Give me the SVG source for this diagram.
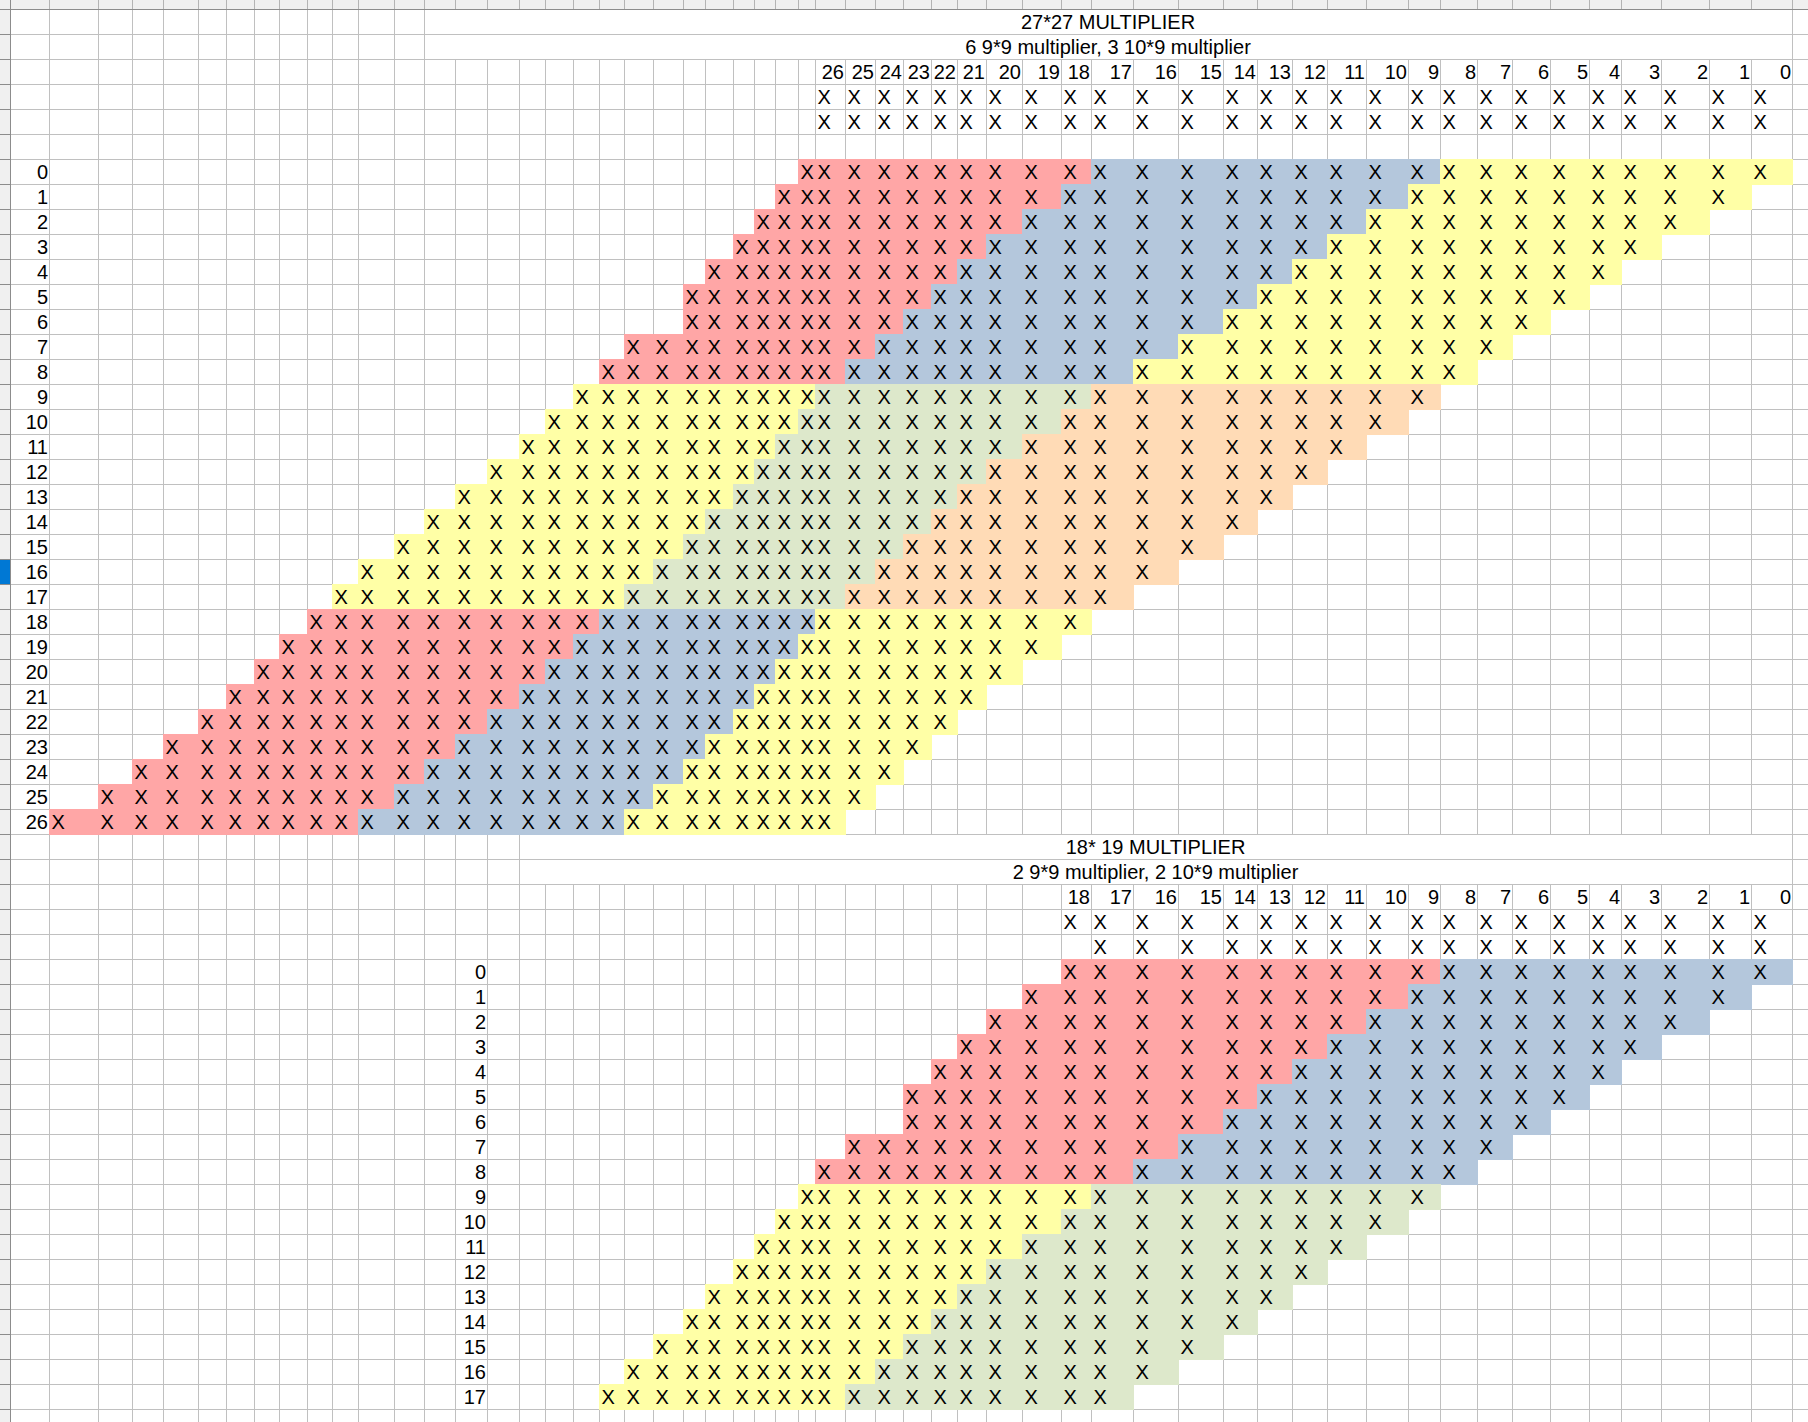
<svg xmlns="http://www.w3.org/2000/svg" xmlns:xlink="http://www.w3.org/1999/xlink" width="1808" height="1422" viewBox="0 0 1808 1422">
<style>
text{font-family:"Liberation Sans",Arial,sans-serif;font-size:20px;fill:#000}
.r{text-anchor:end}
.m{text-anchor:middle}
.p{fill:#ffa6a6}.b{fill:#b4c7dc}.y{fill:#ffffa6}.g{fill:#dde8cb}.o{fill:#ffdbb6}
.grid{stroke:#c0c0c0;stroke-width:1;fill:none}
.dark{stroke:#8c8c8c;stroke-width:1;fill:none}
</style>
<defs>
<clipPath id="ls"><rect x="0" y="0" width="10" height="1422"/></clipPath>
<clipPath id="ts"><rect x="0" y="0" width="1808" height="9"/></clipPath>
</defs>
<rect width="1808" height="1422" fill="#fff"/>
<g id="chrome">
<rect x="0" y="0" width="1808" height="9" fill="#f0f0f0"/>
<rect x="0" y="0" width="10" height="1422" fill="#f0f0f0"/>
<rect x="0" y="560" width="10" height="24" fill="#0078d4"/>
</g>
<g id="grid" class="grid">
<path id="hl" d="M0 9.5H1808M0 34.5H1808M0 59.5H1808M0 84.5H1808M0 109.5H1808M0 134.5H1808M0 159.5H1808M0 184.5H1808M0 209.5H1808M0 234.5H1808M0 259.5H1808M0 284.5H1808M0 309.5H1808M0 334.5H1808M0 359.5H1808M0 384.5H1808M0 409.5H1808M0 434.5H1808M0 459.5H1808M0 484.5H1808M0 509.5H1808M0 534.5H1808M0 559.5H1808M0 584.5H1808M0 609.5H1808M0 634.5H1808M0 659.5H1808M0 684.5H1808M0 709.5H1808M0 734.5H1808M0 759.5H1808M0 784.5H1808M0 809.5H1808M0 834.5H1808M0 859.5H1808M0 884.5H1808M0 909.5H1808M0 934.5H1808M0 959.5H1808M0 984.5H1808M0 1009.5H1808M0 1034.5H1808M0 1059.5H1808M0 1084.5H1808M0 1109.5H1808M0 1134.5H1808M0 1159.5H1808M0 1184.5H1808M0 1209.5H1808M0 1234.5H1808M0 1259.5H1808M0 1284.5H1808M0 1309.5H1808M0 1334.5H1808M0 1359.5H1808M0 1384.5H1808M0 1409.5H1808"/>
<path d="M49.5 9V1422M98.5 9V1422M132.5 9V1422M163.5 9V1422M198.5 9V1422M226.5 9V1422M254.5 9V1422M279.5 9V1422M307.5 9V1422M332.5 9V1422M358.5 9V1422M394.5 9V1422M424.5 9V1422M1792.5 9V1422M455.5 59V1422M487.5 59V1422M519.5 59V1422"/>
<path id="vl" d="M545.5 59V834M573.5 59V834M599.5 59V834M624.5 59V834M653.5 59V834M683.5 59V834M705.5 59V834M733.5 59V834M754.5 59V834M775.5 59V834M798.5 59V834M815.5 59V834M845.5 59V834M875.5 59V834M903.5 59V834M931.5 59V834M957.5 59V834M986.5 59V834M1022.5 59V834M1061.5 59V834M1091.5 59V834M1133.5 59V834M1178.5 59V834M1223.5 59V834M1257.5 59V834M1292.5 59V834M1327.5 59V834M1366.5 59V834M1408.5 59V834M1440.5 59V834M1477.5 59V834M1512.5 59V834M1550.5 59V834M1589.5 59V834M1621.5 59V834M1661.5 59V834M1709.5 59V834M1751.5 59V834"/>
<use xlink:href="#vl" href="#vl" transform="translate(0 825)"/>
<path d="M545.5 1659V1422" stroke="none"/>
<path d="M49.5 0V9M98.5 0V9M132.5 0V9M163.5 0V9M198.5 0V9M226.5 0V9M254.5 0V9M279.5 0V9M307.5 0V9M332.5 0V9M358.5 0V9M394.5 0V9M424.5 0V9M455.5 0V9M487.5 0V9M519.5 0V9M545.5 0V9M573.5 0V9M599.5 0V9M624.5 0V9M653.5 0V9M683.5 0V9M705.5 0V9M733.5 0V9M754.5 0V9M775.5 0V9M798.5 0V9M815.5 0V9M845.5 0V9M875.5 0V9M903.5 0V9M931.5 0V9M957.5 0V9M986.5 0V9M1022.5 0V9M1061.5 0V9M1091.5 0V9M1133.5 0V9M1178.5 0V9M1223.5 0V9M1257.5 0V9M1292.5 0V9M1327.5 0V9M1366.5 0V9M1408.5 0V9M1440.5 0V9M1477.5 0V9M1512.5 0V9M1550.5 0V9M1589.5 0V9M1621.5 0V9M1661.5 0V9M1709.5 0V9M1751.5 0V9M1792.5 0V9" stroke="#b4b4b4"/>
<use xlink:href="#hl" href="#hl" clip-path="url(#ls)" stroke="#8c8c8c"/>
<path class="dark" d="M0 9.5H1808M10.5 0V1422"/>
</g>
<g id="fills">
<rect class="p" x="798" y="159" width="294" height="26"/><rect class="b" x="1091" y="159" width="350" height="26"/><rect class="y" x="1440" y="159" width="353" height="26"/>
<rect class="p" x="775" y="184" width="287" height="26"/><rect class="b" x="1061" y="184" width="348" height="26"/><rect class="y" x="1408" y="184" width="344" height="26"/>
<rect class="p" x="754" y="209" width="269" height="26"/><rect class="b" x="1022" y="209" width="345" height="26"/><rect class="y" x="1366" y="209" width="344" height="26"/>
<rect class="p" x="733" y="234" width="254" height="26"/><rect class="b" x="986" y="234" width="342" height="26"/><rect class="y" x="1327" y="234" width="335" height="26"/>
<rect class="p" x="705" y="259" width="253" height="26"/><rect class="b" x="957" y="259" width="336" height="26"/><rect class="y" x="1292" y="259" width="330" height="26"/>
<rect class="p" x="683" y="284" width="249" height="26"/><rect class="b" x="931" y="284" width="327" height="26"/><rect class="y" x="1257" y="284" width="333" height="26"/>
<rect class="p" x="683" y="309" width="221" height="26"/><rect class="b" x="903" y="309" width="321" height="26"/><rect class="y" x="1223" y="309" width="328" height="26"/>
<rect class="p" x="624" y="334" width="252" height="26"/><rect class="b" x="875" y="334" width="304" height="26"/><rect class="y" x="1178" y="334" width="335" height="26"/>
<rect class="p" x="599" y="359" width="247" height="26"/><rect class="b" x="845" y="359" width="289" height="26"/><rect class="y" x="1133" y="359" width="345" height="26"/>
<rect class="y" x="573" y="384" width="243" height="26"/><rect class="g" x="815" y="384" width="277" height="26"/><rect class="o" x="1091" y="384" width="350" height="26"/>
<rect class="y" x="545" y="409" width="254" height="26"/><rect class="g" x="798" y="409" width="264" height="26"/><rect class="o" x="1061" y="409" width="348" height="26"/>
<rect class="y" x="519" y="434" width="257" height="26"/><rect class="g" x="775" y="434" width="248" height="26"/><rect class="o" x="1022" y="434" width="345" height="26"/>
<rect class="y" x="487" y="459" width="268" height="26"/><rect class="g" x="754" y="459" width="233" height="26"/><rect class="o" x="986" y="459" width="342" height="26"/>
<rect class="y" x="455" y="484" width="279" height="26"/><rect class="g" x="733" y="484" width="225" height="26"/><rect class="o" x="957" y="484" width="336" height="26"/>
<rect class="y" x="424" y="509" width="282" height="26"/><rect class="g" x="705" y="509" width="227" height="26"/><rect class="o" x="931" y="509" width="327" height="26"/>
<rect class="y" x="394" y="534" width="290" height="26"/><rect class="g" x="683" y="534" width="221" height="26"/><rect class="o" x="903" y="534" width="321" height="26"/>
<rect class="y" x="358" y="559" width="296" height="26"/><rect class="g" x="653" y="559" width="223" height="26"/><rect class="o" x="875" y="559" width="304" height="26"/>
<rect class="y" x="332" y="584" width="293" height="26"/><rect class="g" x="624" y="584" width="222" height="26"/><rect class="o" x="845" y="584" width="289" height="26"/>
<rect class="p" x="307" y="609" width="293" height="26"/><rect class="b" x="599" y="609" width="217" height="26"/><rect class="y" x="815" y="609" width="277" height="26"/>
<rect class="p" x="279" y="634" width="295" height="26"/><rect class="b" x="573" y="634" width="226" height="26"/><rect class="y" x="798" y="634" width="264" height="26"/>
<rect class="p" x="254" y="659" width="292" height="26"/><rect class="b" x="545" y="659" width="231" height="26"/><rect class="y" x="775" y="659" width="248" height="26"/>
<rect class="p" x="226" y="684" width="294" height="26"/><rect class="b" x="519" y="684" width="236" height="26"/><rect class="y" x="754" y="684" width="233" height="26"/>
<rect class="p" x="198" y="709" width="290" height="26"/><rect class="b" x="487" y="709" width="247" height="26"/><rect class="y" x="733" y="709" width="225" height="26"/>
<rect class="p" x="163" y="734" width="293" height="26"/><rect class="b" x="455" y="734" width="251" height="26"/><rect class="y" x="705" y="734" width="227" height="26"/>
<rect class="p" x="132" y="759" width="293" height="26"/><rect class="b" x="424" y="759" width="260" height="26"/><rect class="y" x="683" y="759" width="221" height="26"/>
<rect class="p" x="98" y="784" width="297" height="26"/><rect class="b" x="394" y="784" width="260" height="26"/><rect class="y" x="653" y="784" width="223" height="26"/>
<rect class="p" x="49" y="809" width="310" height="26"/><rect class="b" x="358" y="809" width="267" height="26"/><rect class="y" x="624" y="809" width="222" height="26"/>
<rect class="p" x="1061" y="959" width="380" height="26"/><rect class="b" x="1440" y="959" width="353" height="26"/>
<rect class="p" x="1022" y="984" width="387" height="26"/><rect class="b" x="1408" y="984" width="344" height="26"/>
<rect class="p" x="986" y="1009" width="381" height="26"/><rect class="b" x="1366" y="1009" width="344" height="26"/>
<rect class="p" x="957" y="1034" width="371" height="26"/><rect class="b" x="1327" y="1034" width="335" height="26"/>
<rect class="p" x="931" y="1059" width="362" height="26"/><rect class="b" x="1292" y="1059" width="330" height="26"/>
<rect class="p" x="903" y="1084" width="355" height="26"/><rect class="b" x="1257" y="1084" width="333" height="26"/>
<rect class="p" x="903" y="1109" width="321" height="26"/><rect class="b" x="1223" y="1109" width="328" height="26"/>
<rect class="p" x="845" y="1134" width="334" height="26"/><rect class="b" x="1178" y="1134" width="335" height="26"/>
<rect class="p" x="815" y="1159" width="319" height="26"/><rect class="b" x="1133" y="1159" width="345" height="26"/>
<rect class="y" x="798" y="1184" width="294" height="26"/><rect class="g" x="1091" y="1184" width="350" height="26"/>
<rect class="y" x="775" y="1209" width="287" height="26"/><rect class="g" x="1061" y="1209" width="348" height="26"/>
<rect class="y" x="754" y="1234" width="269" height="26"/><rect class="g" x="1022" y="1234" width="345" height="26"/>
<rect class="y" x="733" y="1259" width="254" height="26"/><rect class="g" x="986" y="1259" width="342" height="26"/>
<rect class="y" x="705" y="1284" width="253" height="26"/><rect class="g" x="957" y="1284" width="336" height="26"/>
<rect class="y" x="683" y="1309" width="249" height="26"/><rect class="g" x="931" y="1309" width="327" height="26"/>
<rect class="y" x="653" y="1334" width="251" height="26"/><rect class="g" x="903" y="1334" width="321" height="26"/>
<rect class="y" x="624" y="1359" width="252" height="26"/><rect class="g" x="875" y="1359" width="304" height="26"/>
<rect class="y" x="599" y="1384" width="247" height="26"/><rect class="g" x="845" y="1384" width="289" height="26"/>
</g>
<g id="table27-title">
<text class="m" x="1108" y="29.3">27*27 MULTIPLIER</text>
<text class="m" x="1108" y="54.3">6 9*9 multiplier, 3 10*9 multiplier</text>
</g>
<g id="table27-header">
<g class="r" transform="translate(0 79.3)"><text x="844">26</text><text x="874">25</text><text x="902">24</text><text x="930">23</text><text x="956">22</text><text x="985">21</text><text x="1021">20</text><text x="1060">19</text><text x="1090">18</text><text x="1132">17</text><text x="1177">16</text><text x="1222">15</text><text x="1256">14</text><text x="1291">13</text><text x="1326">12</text><text x="1365">11</text><text x="1407">10</text><text x="1439">9</text><text x="1476">8</text><text x="1511">7</text><text x="1549">6</text><text x="1588">5</text><text x="1620">4</text><text x="1660">3</text><text x="1708">2</text><text x="1750">1</text><text x="1791">0</text></g>
<g transform="translate(.5 104.3)"><text x="817">X</text><text x="847">X</text><text x="877">X</text><text x="905">X</text><text x="933">X</text><text x="959">X</text><text x="988">X</text><text x="1024">X</text><text x="1063">X</text><text x="1093">X</text><text x="1135">X</text><text x="1180">X</text><text x="1225">X</text><text x="1259">X</text><text x="1294">X</text><text x="1329">X</text><text x="1368">X</text><text x="1410">X</text><text x="1442">X</text><text x="1479">X</text><text x="1514">X</text><text x="1552">X</text><text x="1591">X</text><text x="1623">X</text><text x="1663">X</text><text x="1711">X</text><text x="1753">X</text></g>
<g transform="translate(.5 129.3)"><text x="817">X</text><text x="847">X</text><text x="877">X</text><text x="905">X</text><text x="933">X</text><text x="959">X</text><text x="988">X</text><text x="1024">X</text><text x="1063">X</text><text x="1093">X</text><text x="1135">X</text><text x="1180">X</text><text x="1225">X</text><text x="1259">X</text><text x="1294">X</text><text x="1329">X</text><text x="1368">X</text><text x="1410">X</text><text x="1442">X</text><text x="1479">X</text><text x="1514">X</text><text x="1552">X</text><text x="1591">X</text><text x="1623">X</text><text x="1663">X</text><text x="1711">X</text><text x="1753">X</text></g>
</g>
<g id="table27-labels" class="r">
<text x="48" y="179.3">0</text><text x="48" y="204.3">1</text><text x="48" y="229.3">2</text><text x="48" y="254.3">3</text><text x="48" y="279.3">4</text><text x="48" y="304.3">5</text><text x="48" y="329.3">6</text><text x="48" y="354.3">7</text><text x="48" y="379.3">8</text><text x="48" y="404.3">9</text><text x="48" y="429.3">10</text><text x="48" y="454.3">11</text><text x="48" y="479.3">12</text><text x="48" y="504.3">13</text><text x="48" y="529.3">14</text><text x="48" y="554.3">15</text><text x="48" y="579.3">16</text><text x="48" y="604.3">17</text><text x="48" y="629.3">18</text><text x="48" y="654.3">19</text><text x="48" y="679.3">20</text><text x="48" y="704.3">21</text><text x="48" y="729.3">22</text><text x="48" y="754.3">23</text><text x="48" y="779.3">24</text><text x="48" y="804.3">25</text><text x="48" y="829.3">26</text>
</g>
<g id="table27-rows">
<g transform="translate(.5 179.3)"><text x="800">X</text><text x="817">X</text><text x="847">X</text><text x="877">X</text><text x="905">X</text><text x="933">X</text><text x="959">X</text><text x="988">X</text><text x="1024">X</text><text x="1063">X</text><text x="1093">X</text><text x="1135">X</text><text x="1180">X</text><text x="1225">X</text><text x="1259">X</text><text x="1294">X</text><text x="1329">X</text><text x="1368">X</text><text x="1410">X</text><text x="1442">X</text><text x="1479">X</text><text x="1514">X</text><text x="1552">X</text><text x="1591">X</text><text x="1623">X</text><text x="1663">X</text><text x="1711">X</text><text x="1753">X</text></g>
<g transform="translate(.5 204.3)"><text x="777">X</text><text x="800">X</text><text x="817">X</text><text x="847">X</text><text x="877">X</text><text x="905">X</text><text x="933">X</text><text x="959">X</text><text x="988">X</text><text x="1024">X</text><text x="1063">X</text><text x="1093">X</text><text x="1135">X</text><text x="1180">X</text><text x="1225">X</text><text x="1259">X</text><text x="1294">X</text><text x="1329">X</text><text x="1368">X</text><text x="1410">X</text><text x="1442">X</text><text x="1479">X</text><text x="1514">X</text><text x="1552">X</text><text x="1591">X</text><text x="1623">X</text><text x="1663">X</text><text x="1711">X</text></g>
<g transform="translate(.5 229.3)"><text x="756">X</text><text x="777">X</text><text x="800">X</text><text x="817">X</text><text x="847">X</text><text x="877">X</text><text x="905">X</text><text x="933">X</text><text x="959">X</text><text x="988">X</text><text x="1024">X</text><text x="1063">X</text><text x="1093">X</text><text x="1135">X</text><text x="1180">X</text><text x="1225">X</text><text x="1259">X</text><text x="1294">X</text><text x="1329">X</text><text x="1368">X</text><text x="1410">X</text><text x="1442">X</text><text x="1479">X</text><text x="1514">X</text><text x="1552">X</text><text x="1591">X</text><text x="1623">X</text><text x="1663">X</text></g>
<g transform="translate(.5 254.3)"><text x="735">X</text><text x="756">X</text><text x="777">X</text><text x="800">X</text><text x="817">X</text><text x="847">X</text><text x="877">X</text><text x="905">X</text><text x="933">X</text><text x="959">X</text><text x="988">X</text><text x="1024">X</text><text x="1063">X</text><text x="1093">X</text><text x="1135">X</text><text x="1180">X</text><text x="1225">X</text><text x="1259">X</text><text x="1294">X</text><text x="1329">X</text><text x="1368">X</text><text x="1410">X</text><text x="1442">X</text><text x="1479">X</text><text x="1514">X</text><text x="1552">X</text><text x="1591">X</text><text x="1623">X</text></g>
<g transform="translate(.5 279.3)"><text x="707">X</text><text x="735">X</text><text x="756">X</text><text x="777">X</text><text x="800">X</text><text x="817">X</text><text x="847">X</text><text x="877">X</text><text x="905">X</text><text x="933">X</text><text x="959">X</text><text x="988">X</text><text x="1024">X</text><text x="1063">X</text><text x="1093">X</text><text x="1135">X</text><text x="1180">X</text><text x="1225">X</text><text x="1259">X</text><text x="1294">X</text><text x="1329">X</text><text x="1368">X</text><text x="1410">X</text><text x="1442">X</text><text x="1479">X</text><text x="1514">X</text><text x="1552">X</text><text x="1591">X</text></g>
<g transform="translate(.5 304.3)"><text x="685">X</text><text x="707">X</text><text x="735">X</text><text x="756">X</text><text x="777">X</text><text x="800">X</text><text x="817">X</text><text x="847">X</text><text x="877">X</text><text x="905">X</text><text x="933">X</text><text x="959">X</text><text x="988">X</text><text x="1024">X</text><text x="1063">X</text><text x="1093">X</text><text x="1135">X</text><text x="1180">X</text><text x="1225">X</text><text x="1259">X</text><text x="1294">X</text><text x="1329">X</text><text x="1368">X</text><text x="1410">X</text><text x="1442">X</text><text x="1479">X</text><text x="1514">X</text><text x="1552">X</text></g>
<g transform="translate(.5 329.3)"><text x="685">X</text><text x="707">X</text><text x="735">X</text><text x="756">X</text><text x="777">X</text><text x="800">X</text><text x="817">X</text><text x="847">X</text><text x="877">X</text><text x="905">X</text><text x="933">X</text><text x="959">X</text><text x="988">X</text><text x="1024">X</text><text x="1063">X</text><text x="1093">X</text><text x="1135">X</text><text x="1180">X</text><text x="1225">X</text><text x="1259">X</text><text x="1294">X</text><text x="1329">X</text><text x="1368">X</text><text x="1410">X</text><text x="1442">X</text><text x="1479">X</text><text x="1514">X</text></g>
<g transform="translate(.5 354.3)"><text x="626">X</text><text x="655">X</text><text x="685">X</text><text x="707">X</text><text x="735">X</text><text x="756">X</text><text x="777">X</text><text x="800">X</text><text x="817">X</text><text x="847">X</text><text x="877">X</text><text x="905">X</text><text x="933">X</text><text x="959">X</text><text x="988">X</text><text x="1024">X</text><text x="1063">X</text><text x="1093">X</text><text x="1135">X</text><text x="1180">X</text><text x="1225">X</text><text x="1259">X</text><text x="1294">X</text><text x="1329">X</text><text x="1368">X</text><text x="1410">X</text><text x="1442">X</text><text x="1479">X</text></g>
<g transform="translate(.5 379.3)"><text x="601">X</text><text x="626">X</text><text x="655">X</text><text x="685">X</text><text x="707">X</text><text x="735">X</text><text x="756">X</text><text x="777">X</text><text x="800">X</text><text x="817">X</text><text x="847">X</text><text x="877">X</text><text x="905">X</text><text x="933">X</text><text x="959">X</text><text x="988">X</text><text x="1024">X</text><text x="1063">X</text><text x="1093">X</text><text x="1135">X</text><text x="1180">X</text><text x="1225">X</text><text x="1259">X</text><text x="1294">X</text><text x="1329">X</text><text x="1368">X</text><text x="1410">X</text><text x="1442">X</text></g>
<g transform="translate(.5 404.3)"><text x="575">X</text><text x="601">X</text><text x="626">X</text><text x="655">X</text><text x="685">X</text><text x="707">X</text><text x="735">X</text><text x="756">X</text><text x="777">X</text><text x="800">X</text><text x="817">X</text><text x="847">X</text><text x="877">X</text><text x="905">X</text><text x="933">X</text><text x="959">X</text><text x="988">X</text><text x="1024">X</text><text x="1063">X</text><text x="1093">X</text><text x="1135">X</text><text x="1180">X</text><text x="1225">X</text><text x="1259">X</text><text x="1294">X</text><text x="1329">X</text><text x="1368">X</text><text x="1410">X</text></g>
<g transform="translate(.5 429.3)"><text x="547">X</text><text x="575">X</text><text x="601">X</text><text x="626">X</text><text x="655">X</text><text x="685">X</text><text x="707">X</text><text x="735">X</text><text x="756">X</text><text x="777">X</text><text x="800">X</text><text x="817">X</text><text x="847">X</text><text x="877">X</text><text x="905">X</text><text x="933">X</text><text x="959">X</text><text x="988">X</text><text x="1024">X</text><text x="1063">X</text><text x="1093">X</text><text x="1135">X</text><text x="1180">X</text><text x="1225">X</text><text x="1259">X</text><text x="1294">X</text><text x="1329">X</text><text x="1368">X</text></g>
<g transform="translate(.5 454.3)"><text x="521">X</text><text x="547">X</text><text x="575">X</text><text x="601">X</text><text x="626">X</text><text x="655">X</text><text x="685">X</text><text x="707">X</text><text x="735">X</text><text x="756">X</text><text x="777">X</text><text x="800">X</text><text x="817">X</text><text x="847">X</text><text x="877">X</text><text x="905">X</text><text x="933">X</text><text x="959">X</text><text x="988">X</text><text x="1024">X</text><text x="1063">X</text><text x="1093">X</text><text x="1135">X</text><text x="1180">X</text><text x="1225">X</text><text x="1259">X</text><text x="1294">X</text><text x="1329">X</text></g>
<g transform="translate(.5 479.3)"><text x="489">X</text><text x="521">X</text><text x="547">X</text><text x="575">X</text><text x="601">X</text><text x="626">X</text><text x="655">X</text><text x="685">X</text><text x="707">X</text><text x="735">X</text><text x="756">X</text><text x="777">X</text><text x="800">X</text><text x="817">X</text><text x="847">X</text><text x="877">X</text><text x="905">X</text><text x="933">X</text><text x="959">X</text><text x="988">X</text><text x="1024">X</text><text x="1063">X</text><text x="1093">X</text><text x="1135">X</text><text x="1180">X</text><text x="1225">X</text><text x="1259">X</text><text x="1294">X</text></g>
<g transform="translate(.5 504.3)"><text x="457">X</text><text x="489">X</text><text x="521">X</text><text x="547">X</text><text x="575">X</text><text x="601">X</text><text x="626">X</text><text x="655">X</text><text x="685">X</text><text x="707">X</text><text x="735">X</text><text x="756">X</text><text x="777">X</text><text x="800">X</text><text x="817">X</text><text x="847">X</text><text x="877">X</text><text x="905">X</text><text x="933">X</text><text x="959">X</text><text x="988">X</text><text x="1024">X</text><text x="1063">X</text><text x="1093">X</text><text x="1135">X</text><text x="1180">X</text><text x="1225">X</text><text x="1259">X</text></g>
<g transform="translate(.5 529.3)"><text x="426">X</text><text x="457">X</text><text x="489">X</text><text x="521">X</text><text x="547">X</text><text x="575">X</text><text x="601">X</text><text x="626">X</text><text x="655">X</text><text x="685">X</text><text x="707">X</text><text x="735">X</text><text x="756">X</text><text x="777">X</text><text x="800">X</text><text x="817">X</text><text x="847">X</text><text x="877">X</text><text x="905">X</text><text x="933">X</text><text x="959">X</text><text x="988">X</text><text x="1024">X</text><text x="1063">X</text><text x="1093">X</text><text x="1135">X</text><text x="1180">X</text><text x="1225">X</text></g>
<g transform="translate(.5 554.3)"><text x="396">X</text><text x="426">X</text><text x="457">X</text><text x="489">X</text><text x="521">X</text><text x="547">X</text><text x="575">X</text><text x="601">X</text><text x="626">X</text><text x="655">X</text><text x="685">X</text><text x="707">X</text><text x="735">X</text><text x="756">X</text><text x="777">X</text><text x="800">X</text><text x="817">X</text><text x="847">X</text><text x="877">X</text><text x="905">X</text><text x="933">X</text><text x="959">X</text><text x="988">X</text><text x="1024">X</text><text x="1063">X</text><text x="1093">X</text><text x="1135">X</text><text x="1180">X</text></g>
<g transform="translate(.5 579.3)"><text x="360">X</text><text x="396">X</text><text x="426">X</text><text x="457">X</text><text x="489">X</text><text x="521">X</text><text x="547">X</text><text x="575">X</text><text x="601">X</text><text x="626">X</text><text x="655">X</text><text x="685">X</text><text x="707">X</text><text x="735">X</text><text x="756">X</text><text x="777">X</text><text x="800">X</text><text x="817">X</text><text x="847">X</text><text x="877">X</text><text x="905">X</text><text x="933">X</text><text x="959">X</text><text x="988">X</text><text x="1024">X</text><text x="1063">X</text><text x="1093">X</text><text x="1135">X</text></g>
<g transform="translate(.5 604.3)"><text x="334">X</text><text x="360">X</text><text x="396">X</text><text x="426">X</text><text x="457">X</text><text x="489">X</text><text x="521">X</text><text x="547">X</text><text x="575">X</text><text x="601">X</text><text x="626">X</text><text x="655">X</text><text x="685">X</text><text x="707">X</text><text x="735">X</text><text x="756">X</text><text x="777">X</text><text x="800">X</text><text x="817">X</text><text x="847">X</text><text x="877">X</text><text x="905">X</text><text x="933">X</text><text x="959">X</text><text x="988">X</text><text x="1024">X</text><text x="1063">X</text><text x="1093">X</text></g>
<g transform="translate(.5 629.3)"><text x="309">X</text><text x="334">X</text><text x="360">X</text><text x="396">X</text><text x="426">X</text><text x="457">X</text><text x="489">X</text><text x="521">X</text><text x="547">X</text><text x="575">X</text><text x="601">X</text><text x="626">X</text><text x="655">X</text><text x="685">X</text><text x="707">X</text><text x="735">X</text><text x="756">X</text><text x="777">X</text><text x="800">X</text><text x="817">X</text><text x="847">X</text><text x="877">X</text><text x="905">X</text><text x="933">X</text><text x="959">X</text><text x="988">X</text><text x="1024">X</text><text x="1063">X</text></g>
<g transform="translate(.5 654.3)"><text x="281">X</text><text x="309">X</text><text x="334">X</text><text x="360">X</text><text x="396">X</text><text x="426">X</text><text x="457">X</text><text x="489">X</text><text x="521">X</text><text x="547">X</text><text x="575">X</text><text x="601">X</text><text x="626">X</text><text x="655">X</text><text x="685">X</text><text x="707">X</text><text x="735">X</text><text x="756">X</text><text x="777">X</text><text x="800">X</text><text x="817">X</text><text x="847">X</text><text x="877">X</text><text x="905">X</text><text x="933">X</text><text x="959">X</text><text x="988">X</text><text x="1024">X</text></g>
<g transform="translate(.5 679.3)"><text x="256">X</text><text x="281">X</text><text x="309">X</text><text x="334">X</text><text x="360">X</text><text x="396">X</text><text x="426">X</text><text x="457">X</text><text x="489">X</text><text x="521">X</text><text x="547">X</text><text x="575">X</text><text x="601">X</text><text x="626">X</text><text x="655">X</text><text x="685">X</text><text x="707">X</text><text x="735">X</text><text x="756">X</text><text x="777">X</text><text x="800">X</text><text x="817">X</text><text x="847">X</text><text x="877">X</text><text x="905">X</text><text x="933">X</text><text x="959">X</text><text x="988">X</text></g>
<g transform="translate(.5 704.3)"><text x="228">X</text><text x="256">X</text><text x="281">X</text><text x="309">X</text><text x="334">X</text><text x="360">X</text><text x="396">X</text><text x="426">X</text><text x="457">X</text><text x="489">X</text><text x="521">X</text><text x="547">X</text><text x="575">X</text><text x="601">X</text><text x="626">X</text><text x="655">X</text><text x="685">X</text><text x="707">X</text><text x="735">X</text><text x="756">X</text><text x="777">X</text><text x="800">X</text><text x="817">X</text><text x="847">X</text><text x="877">X</text><text x="905">X</text><text x="933">X</text><text x="959">X</text></g>
<g transform="translate(.5 729.3)"><text x="200">X</text><text x="228">X</text><text x="256">X</text><text x="281">X</text><text x="309">X</text><text x="334">X</text><text x="360">X</text><text x="396">X</text><text x="426">X</text><text x="457">X</text><text x="489">X</text><text x="521">X</text><text x="547">X</text><text x="575">X</text><text x="601">X</text><text x="626">X</text><text x="655">X</text><text x="685">X</text><text x="707">X</text><text x="735">X</text><text x="756">X</text><text x="777">X</text><text x="800">X</text><text x="817">X</text><text x="847">X</text><text x="877">X</text><text x="905">X</text><text x="933">X</text></g>
<g transform="translate(.5 754.3)"><text x="165">X</text><text x="200">X</text><text x="228">X</text><text x="256">X</text><text x="281">X</text><text x="309">X</text><text x="334">X</text><text x="360">X</text><text x="396">X</text><text x="426">X</text><text x="457">X</text><text x="489">X</text><text x="521">X</text><text x="547">X</text><text x="575">X</text><text x="601">X</text><text x="626">X</text><text x="655">X</text><text x="685">X</text><text x="707">X</text><text x="735">X</text><text x="756">X</text><text x="777">X</text><text x="800">X</text><text x="817">X</text><text x="847">X</text><text x="877">X</text><text x="905">X</text></g>
<g transform="translate(.5 779.3)"><text x="134">X</text><text x="165">X</text><text x="200">X</text><text x="228">X</text><text x="256">X</text><text x="281">X</text><text x="309">X</text><text x="334">X</text><text x="360">X</text><text x="396">X</text><text x="426">X</text><text x="457">X</text><text x="489">X</text><text x="521">X</text><text x="547">X</text><text x="575">X</text><text x="601">X</text><text x="626">X</text><text x="655">X</text><text x="685">X</text><text x="707">X</text><text x="735">X</text><text x="756">X</text><text x="777">X</text><text x="800">X</text><text x="817">X</text><text x="847">X</text><text x="877">X</text></g>
<g transform="translate(.5 804.3)"><text x="100">X</text><text x="134">X</text><text x="165">X</text><text x="200">X</text><text x="228">X</text><text x="256">X</text><text x="281">X</text><text x="309">X</text><text x="334">X</text><text x="360">X</text><text x="396">X</text><text x="426">X</text><text x="457">X</text><text x="489">X</text><text x="521">X</text><text x="547">X</text><text x="575">X</text><text x="601">X</text><text x="626">X</text><text x="655">X</text><text x="685">X</text><text x="707">X</text><text x="735">X</text><text x="756">X</text><text x="777">X</text><text x="800">X</text><text x="817">X</text><text x="847">X</text></g>
<g transform="translate(.5 829.3)"><text x="51">X</text><text x="100">X</text><text x="134">X</text><text x="165">X</text><text x="200">X</text><text x="228">X</text><text x="256">X</text><text x="281">X</text><text x="309">X</text><text x="334">X</text><text x="360">X</text><text x="396">X</text><text x="426">X</text><text x="457">X</text><text x="489">X</text><text x="521">X</text><text x="547">X</text><text x="575">X</text><text x="601">X</text><text x="626">X</text><text x="655">X</text><text x="685">X</text><text x="707">X</text><text x="735">X</text><text x="756">X</text><text x="777">X</text><text x="800">X</text><text x="817">X</text></g>
</g>
<g id="table18-title">
<text class="m" x="1155.5" y="854.3">18* 19 MULTIPLIER</text>
<text class="m" x="1155.5" y="879.3">2 9*9 multiplier, 2 10*9 multiplier</text>
</g>
<g id="table18-header">
<g class="r" transform="translate(0 904.3)"><text x="1090">18</text><text x="1132">17</text><text x="1177">16</text><text x="1222">15</text><text x="1256">14</text><text x="1291">13</text><text x="1326">12</text><text x="1365">11</text><text x="1407">10</text><text x="1439">9</text><text x="1476">8</text><text x="1511">7</text><text x="1549">6</text><text x="1588">5</text><text x="1620">4</text><text x="1660">3</text><text x="1708">2</text><text x="1750">1</text><text x="1791">0</text></g>
<g transform="translate(.5 929.3)"><text x="1063">X</text><text x="1093">X</text><text x="1135">X</text><text x="1180">X</text><text x="1225">X</text><text x="1259">X</text><text x="1294">X</text><text x="1329">X</text><text x="1368">X</text><text x="1410">X</text><text x="1442">X</text><text x="1479">X</text><text x="1514">X</text><text x="1552">X</text><text x="1591">X</text><text x="1623">X</text><text x="1663">X</text><text x="1711">X</text><text x="1753">X</text></g>
<g transform="translate(.5 954.3)"><text x="1093">X</text><text x="1135">X</text><text x="1180">X</text><text x="1225">X</text><text x="1259">X</text><text x="1294">X</text><text x="1329">X</text><text x="1368">X</text><text x="1410">X</text><text x="1442">X</text><text x="1479">X</text><text x="1514">X</text><text x="1552">X</text><text x="1591">X</text><text x="1623">X</text><text x="1663">X</text><text x="1711">X</text><text x="1753">X</text></g>
</g>
<g id="table18-labels" class="r">
<text x="486" y="979.3">0</text><text x="486" y="1004.3">1</text><text x="486" y="1029.3">2</text><text x="486" y="1054.3">3</text><text x="486" y="1079.3">4</text><text x="486" y="1104.3">5</text><text x="486" y="1129.3">6</text><text x="486" y="1154.3">7</text><text x="486" y="1179.3">8</text><text x="486" y="1204.3">9</text><text x="486" y="1229.3">10</text><text x="486" y="1254.3">11</text><text x="486" y="1279.3">12</text><text x="486" y="1304.3">13</text><text x="486" y="1329.3">14</text><text x="486" y="1354.3">15</text><text x="486" y="1379.3">16</text><text x="486" y="1404.3">17</text>
</g>
<g id="table18-rows">
<g transform="translate(.5 979.3)"><text x="1063">X</text><text x="1093">X</text><text x="1135">X</text><text x="1180">X</text><text x="1225">X</text><text x="1259">X</text><text x="1294">X</text><text x="1329">X</text><text x="1368">X</text><text x="1410">X</text><text x="1442">X</text><text x="1479">X</text><text x="1514">X</text><text x="1552">X</text><text x="1591">X</text><text x="1623">X</text><text x="1663">X</text><text x="1711">X</text><text x="1753">X</text></g>
<g transform="translate(.5 1004.3)"><text x="1024">X</text><text x="1063">X</text><text x="1093">X</text><text x="1135">X</text><text x="1180">X</text><text x="1225">X</text><text x="1259">X</text><text x="1294">X</text><text x="1329">X</text><text x="1368">X</text><text x="1410">X</text><text x="1442">X</text><text x="1479">X</text><text x="1514">X</text><text x="1552">X</text><text x="1591">X</text><text x="1623">X</text><text x="1663">X</text><text x="1711">X</text></g>
<g transform="translate(.5 1029.3)"><text x="988">X</text><text x="1024">X</text><text x="1063">X</text><text x="1093">X</text><text x="1135">X</text><text x="1180">X</text><text x="1225">X</text><text x="1259">X</text><text x="1294">X</text><text x="1329">X</text><text x="1368">X</text><text x="1410">X</text><text x="1442">X</text><text x="1479">X</text><text x="1514">X</text><text x="1552">X</text><text x="1591">X</text><text x="1623">X</text><text x="1663">X</text></g>
<g transform="translate(.5 1054.3)"><text x="959">X</text><text x="988">X</text><text x="1024">X</text><text x="1063">X</text><text x="1093">X</text><text x="1135">X</text><text x="1180">X</text><text x="1225">X</text><text x="1259">X</text><text x="1294">X</text><text x="1329">X</text><text x="1368">X</text><text x="1410">X</text><text x="1442">X</text><text x="1479">X</text><text x="1514">X</text><text x="1552">X</text><text x="1591">X</text><text x="1623">X</text></g>
<g transform="translate(.5 1079.3)"><text x="933">X</text><text x="959">X</text><text x="988">X</text><text x="1024">X</text><text x="1063">X</text><text x="1093">X</text><text x="1135">X</text><text x="1180">X</text><text x="1225">X</text><text x="1259">X</text><text x="1294">X</text><text x="1329">X</text><text x="1368">X</text><text x="1410">X</text><text x="1442">X</text><text x="1479">X</text><text x="1514">X</text><text x="1552">X</text><text x="1591">X</text></g>
<g transform="translate(.5 1104.3)"><text x="905">X</text><text x="933">X</text><text x="959">X</text><text x="988">X</text><text x="1024">X</text><text x="1063">X</text><text x="1093">X</text><text x="1135">X</text><text x="1180">X</text><text x="1225">X</text><text x="1259">X</text><text x="1294">X</text><text x="1329">X</text><text x="1368">X</text><text x="1410">X</text><text x="1442">X</text><text x="1479">X</text><text x="1514">X</text><text x="1552">X</text></g>
<g transform="translate(.5 1129.3)"><text x="905">X</text><text x="933">X</text><text x="959">X</text><text x="988">X</text><text x="1024">X</text><text x="1063">X</text><text x="1093">X</text><text x="1135">X</text><text x="1180">X</text><text x="1225">X</text><text x="1259">X</text><text x="1294">X</text><text x="1329">X</text><text x="1368">X</text><text x="1410">X</text><text x="1442">X</text><text x="1479">X</text><text x="1514">X</text></g>
<g transform="translate(.5 1154.3)"><text x="847">X</text><text x="877">X</text><text x="905">X</text><text x="933">X</text><text x="959">X</text><text x="988">X</text><text x="1024">X</text><text x="1063">X</text><text x="1093">X</text><text x="1135">X</text><text x="1180">X</text><text x="1225">X</text><text x="1259">X</text><text x="1294">X</text><text x="1329">X</text><text x="1368">X</text><text x="1410">X</text><text x="1442">X</text><text x="1479">X</text></g>
<g transform="translate(.5 1179.3)"><text x="817">X</text><text x="847">X</text><text x="877">X</text><text x="905">X</text><text x="933">X</text><text x="959">X</text><text x="988">X</text><text x="1024">X</text><text x="1063">X</text><text x="1093">X</text><text x="1135">X</text><text x="1180">X</text><text x="1225">X</text><text x="1259">X</text><text x="1294">X</text><text x="1329">X</text><text x="1368">X</text><text x="1410">X</text><text x="1442">X</text></g>
<g transform="translate(.5 1204.3)"><text x="800">X</text><text x="817">X</text><text x="847">X</text><text x="877">X</text><text x="905">X</text><text x="933">X</text><text x="959">X</text><text x="988">X</text><text x="1024">X</text><text x="1063">X</text><text x="1093">X</text><text x="1135">X</text><text x="1180">X</text><text x="1225">X</text><text x="1259">X</text><text x="1294">X</text><text x="1329">X</text><text x="1368">X</text><text x="1410">X</text></g>
<g transform="translate(.5 1229.3)"><text x="777">X</text><text x="800">X</text><text x="817">X</text><text x="847">X</text><text x="877">X</text><text x="905">X</text><text x="933">X</text><text x="959">X</text><text x="988">X</text><text x="1024">X</text><text x="1063">X</text><text x="1093">X</text><text x="1135">X</text><text x="1180">X</text><text x="1225">X</text><text x="1259">X</text><text x="1294">X</text><text x="1329">X</text><text x="1368">X</text></g>
<g transform="translate(.5 1254.3)"><text x="756">X</text><text x="777">X</text><text x="800">X</text><text x="817">X</text><text x="847">X</text><text x="877">X</text><text x="905">X</text><text x="933">X</text><text x="959">X</text><text x="988">X</text><text x="1024">X</text><text x="1063">X</text><text x="1093">X</text><text x="1135">X</text><text x="1180">X</text><text x="1225">X</text><text x="1259">X</text><text x="1294">X</text><text x="1329">X</text></g>
<g transform="translate(.5 1279.3)"><text x="735">X</text><text x="756">X</text><text x="777">X</text><text x="800">X</text><text x="817">X</text><text x="847">X</text><text x="877">X</text><text x="905">X</text><text x="933">X</text><text x="959">X</text><text x="988">X</text><text x="1024">X</text><text x="1063">X</text><text x="1093">X</text><text x="1135">X</text><text x="1180">X</text><text x="1225">X</text><text x="1259">X</text><text x="1294">X</text></g>
<g transform="translate(.5 1304.3)"><text x="707">X</text><text x="735">X</text><text x="756">X</text><text x="777">X</text><text x="800">X</text><text x="817">X</text><text x="847">X</text><text x="877">X</text><text x="905">X</text><text x="933">X</text><text x="959">X</text><text x="988">X</text><text x="1024">X</text><text x="1063">X</text><text x="1093">X</text><text x="1135">X</text><text x="1180">X</text><text x="1225">X</text><text x="1259">X</text></g>
<g transform="translate(.5 1329.3)"><text x="685">X</text><text x="707">X</text><text x="735">X</text><text x="756">X</text><text x="777">X</text><text x="800">X</text><text x="817">X</text><text x="847">X</text><text x="877">X</text><text x="905">X</text><text x="933">X</text><text x="959">X</text><text x="988">X</text><text x="1024">X</text><text x="1063">X</text><text x="1093">X</text><text x="1135">X</text><text x="1180">X</text><text x="1225">X</text></g>
<g transform="translate(.5 1354.3)"><text x="655">X</text><text x="685">X</text><text x="707">X</text><text x="735">X</text><text x="756">X</text><text x="777">X</text><text x="800">X</text><text x="817">X</text><text x="847">X</text><text x="877">X</text><text x="905">X</text><text x="933">X</text><text x="959">X</text><text x="988">X</text><text x="1024">X</text><text x="1063">X</text><text x="1093">X</text><text x="1135">X</text><text x="1180">X</text></g>
<g transform="translate(.5 1379.3)"><text x="626">X</text><text x="655">X</text><text x="685">X</text><text x="707">X</text><text x="735">X</text><text x="756">X</text><text x="777">X</text><text x="800">X</text><text x="817">X</text><text x="847">X</text><text x="877">X</text><text x="905">X</text><text x="933">X</text><text x="959">X</text><text x="988">X</text><text x="1024">X</text><text x="1063">X</text><text x="1093">X</text><text x="1135">X</text></g>
<g transform="translate(.5 1404.3)"><text x="601">X</text><text x="626">X</text><text x="655">X</text><text x="685">X</text><text x="707">X</text><text x="735">X</text><text x="756">X</text><text x="777">X</text><text x="800">X</text><text x="817">X</text><text x="847">X</text><text x="877">X</text><text x="905">X</text><text x="933">X</text><text x="959">X</text><text x="988">X</text><text x="1024">X</text><text x="1063">X</text><text x="1093">X</text></g>
</g>
</svg>
